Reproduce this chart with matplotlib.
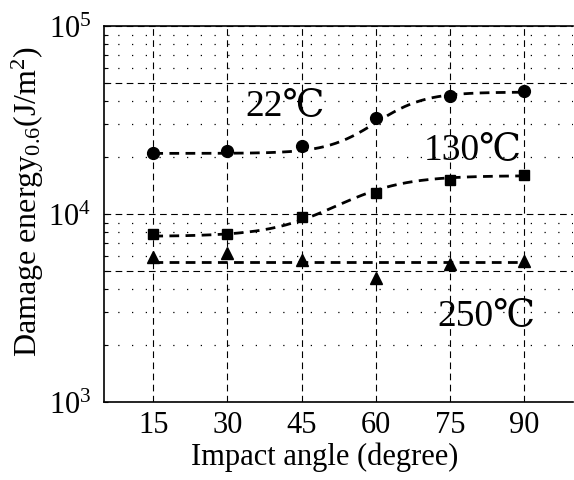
import numpy as np
import matplotlib
matplotlib.use("Agg")
import matplotlib.pyplot as plt
from matplotlib.ticker import FixedLocator, FuncFormatter

plt.rcParams["font.family"] = ["Liberation Serif", "DejaVu Serif", "Noto Sans CJK SC"]
plt.rcParams["mathtext.fontset"] = "custom"
plt.rcParams["mathtext.rm"] = "Liberation Serif"
plt.rcParams["mathtext.it"] = "Liberation Serif:italic"

# impact angle (degree) and damage energy for each test temperature
angles = [15, 30, 45, 60, 75, 90]
energy_22 = [21100, 21600, 22900, 32300, 42300, 45000]
energy_130 = [7850, 7850, 9600, 13000, 15200, 16100]
energy_250 = [5890, 6200, 5700, 4550, 5420, 5650]

# sigmoid trend in log space: low plateau, high plateau, centre, width
trend_22 = (21000, 44500, 60, 5)
trend_130 = (7600, 16000, 52, 7)

x_ticks = [15, 30, 45, 60, 75, 90]
y_major = [1e3, 5e3, 1e4, 5e4, 1e5]
y_minor = [m * 10 ** e for e in (3, 4) for m in (2, 3, 4, 6, 7, 8, 9)]


def sigmoid_trend(x, params):
    lo, hi, c, w = params
    llo, lhi = np.log10(lo), np.log10(hi)
    return 10 ** (llo + (lhi - llo) / (1 + np.exp(-(x - c) / w)))


fig = plt.figure(figsize=(5.74, 4.81), dpi=100)
ax = fig.add_axes([0.181, 0.162, 0.818, 0.782])
ax.set_yscale("log")
ax.set_xlim(5, 100)
ax.set_ylim(1e3, 1e5)

# grid: dashed at major positions, dotted at the rest
for v in y_major:
    ax.axhline(v, color="black", lw=0.8, ls=(0, (6, 4)), zorder=1)
for v in y_minor:
    ax.axhline(v, color="black", lw=0.9, ls=(0, (1, 10)), zorder=1)
for v in x_ticks:
    ax.axvline(v, color="black", lw=0.8, ls=(0, (6, 4)), zorder=1)

xs = np.linspace(15, 90, 200)
dash = (0, (3.5, 2.3))
ax.plot(xs, sigmoid_trend(xs, trend_22), color="black", lw=2.0, ls=dash, zorder=2)
ax.plot(xs, sigmoid_trend(xs, trend_130), color="black", lw=2.0, ls=dash, zorder=2)
mean_250 = 10 ** np.mean(np.log10(energy_250))
ax.plot([15, 90], [mean_250, mean_250], color="black", lw=2.0, ls=dash, zorder=2)

ax.plot(angles, energy_22, "o", color="black", ms=8.5, zorder=3)
ax.plot(angles, energy_130, "s", color="black", ms=7.5, zorder=3)
ax.plot(angles, energy_250, "^", color="black", ms=8, zorder=3)

ax.text(41.6, 38000, "22℃", fontsize=27, ha="center", va="center")
ax.text(79.6, 22200, "130℃", fontsize=27, ha="center", va="center")
ax.text(82.4, 2900, "250℃", fontsize=27, ha="center", va="center")

ax.set_xticks(x_ticks)
ax.yaxis.set_major_locator(FixedLocator(y_major))
ax.yaxis.set_minor_locator(FixedLocator(y_minor))
ax.yaxis.set_major_formatter(
    FuncFormatter(lambda v, p: "$10^{%d}$" % round(np.log10(v)) if np.isclose(np.log10(v) % 1, 0) else "")
)
ax.yaxis.set_minor_formatter(FuncFormatter(lambda v, p: ""))
ax.tick_params(axis="x", which="both", length=0, labelsize=22, pad=6)
ax.tick_params(axis="y", which="both", direction="in", length=3, width=0.8, labelsize=22, pad=9)

for s in ("left", "bottom", "top"):
    ax.spines[s].set_linewidth(1.2)
ax.spines["right"].set_visible(False)

ax.set_xlabel("Impact angle (degree)", fontsize=22)
ax.xaxis.set_label_coords(0.471, -0.105)
ax.set_ylabel("Damage energy$_{\\mathrm{0.6}}$(J/m$^{\\mathrm{2}}$)", fontsize=23)
ax.yaxis.set_label_coords(-0.123, 0.535)

fig.savefig("out.png", dpi=100)
